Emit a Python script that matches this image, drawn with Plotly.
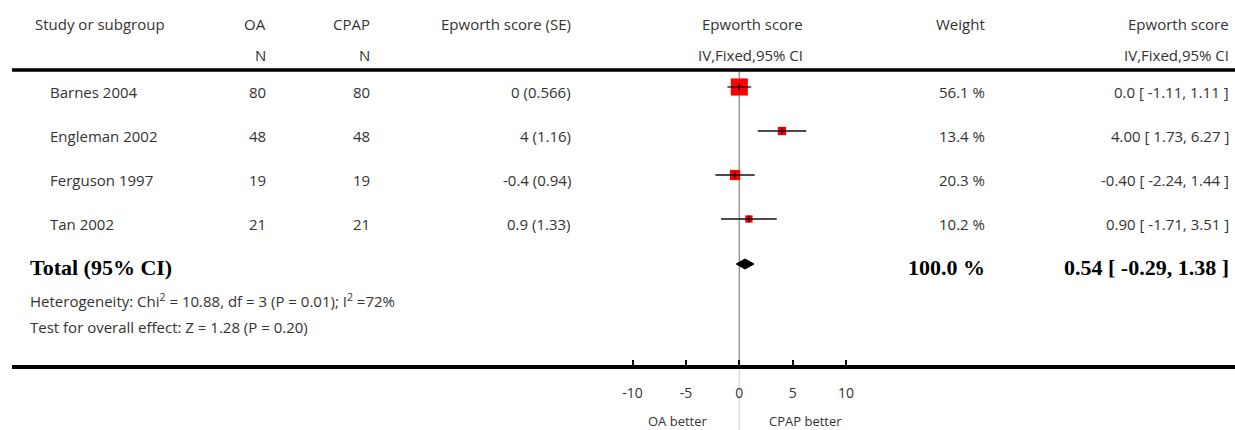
import plotly.graph_objects as go

# ---- study data ----
studies = ["Barnes 2004", "Engleman 2002", "Ferguson 1997", "Tan 2002"]
n_oa = [80, 48, 19, 21]
n_cpap = [80, 48, 19, 21]
md_text = ["0", "4", "-0.4", "0.9"]
se_text = ["0.566", "1.16", "0.94", "1.33"]
weights = [56.1, 13.4, 20.3, 10.2]
est_text = ["0.0", "4.00", "-0.40", "0.90"]
lo_text = ["-1.11", "1.73", "-2.24", "-1.71"]
hi_text = ["1.11", "6.27", "1.44", "3.51"]

# ---- pooled result ----
total_est_text = "0.54"
total_lo_text = "-0.29"
total_hi_text = "1.38"
total_weight_text = "100.0"
heterogeneity = "Heterogeneity: Chi<sup>2</sup> = 10.88, df = 3 (P = 0.01); I<sup>2</sup> =72%"
overall_test = "Test for overall effect: Z = 1.28 (P = 0.20)"

# ---- axis ----
tick_vals = [-10, -5, 0, 5, 10]
tick_text = ["-10", "-5", "0", "5", "10"]
left_label = "OA better"
right_label = "CPAP better"

est = [float(v) for v in est_text]
lo = [float(v) for v in lo_text]
hi = [float(v) for v in hi_text]
t_est, t_lo, t_hi = float(total_est_text), float(total_lo_text), float(total_hi_text)

W, H = 1235, 430
ZERO_PX, PX_PER_UNIT = 739.3, 10.67
LEFT_PX = 12
AXIS_Y = 366.5
HEADER_LINE_Y = 70

x_range = [(LEFT_PX - ZERO_PX) / PX_PER_UNIT, (W - ZERO_PX) / PX_PER_UNIT]

SANS = "Open Sans"
SERIF = "Liberation Serif"
TXT = "#333333"
BODY = 15

mark_y = [87 + 44 * i for i in range(len(studies))]
text_y = [y + 5 for y in mark_y]
total_y = 264

fig = go.Figure()

# study squares, sized by weight
fig.add_trace(go.Scatter(
    x=est, y=mark_y, mode="markers", opacity=1,
    marker=dict(symbol="square", color="#ff0000", opacity=1,
                size=[2.28 * w ** 0.5 for w in weights], line=dict(width=0)),
    hoverinfo="skip"))

# confidence intervals
ci_x, ci_y = [], []
for a, b, y in zip(lo, hi, mark_y):
    ci_x += [a, b, None]
    ci_y += [y, y, None]
fig.add_trace(go.Scatter(x=ci_x, y=ci_y, mode="lines",
                         line=dict(color="#111111", width=1.3), hoverinfo="skip"))

# point-estimate ticks
fig.add_trace(go.Scatter(
    x=est, y=mark_y, mode="markers",
    marker=dict(symbol="line-ns-open", size=5, color="#111111",
                line=dict(width=1.3, color="#111111")),
    hoverinfo="skip"))

# pooled diamond
fig.add_trace(go.Scatter(
    x=[t_lo, t_est, t_hi, t_est, t_lo],
    y=[total_y, total_y - 5, total_y, total_y + 5, total_y],
    mode="lines", fill="toself", fillcolor="#000000",
    line=dict(color="#000000", width=1), hoverinfo="skip"))

shapes = [
    dict(type="line", xref="paper", yref="y", x0=LEFT_PX / W, x1=1,
         y0=HEADER_LINE_Y, y1=HEADER_LINE_Y, line=dict(color="#000000", width=3.5)),
    dict(type="line", xref="x", yref="y", x0=0, x1=0, y0=HEADER_LINE_Y, y1=AXIS_Y,
         line=dict(color="#9a9a9a", width=1.5), layer="below"),
    dict(type="line", xref="x", yref="y", x0=0, x1=0, y0=AXIS_Y + 2, y1=H,
         line=dict(color="#dcdcdc", width=1.5), layer="below"),
]

ann = []


def txt(px, py, s, anchor="left", size=BODY, family=SANS, color=TXT):
    ann.append(dict(x=px / W, y=py, xref="paper", yref="y", text=s, showarrow=False,
                    xanchor=anchor, yanchor="middle",
                    font=dict(family=family, size=size, color=color)))


# header
txt(33, 24, "Study or subgroup")
txt(268, 24, "OA", "right")
txt(268, 55, "N", "right")
txt(372, 24, "CPAP", "right")
txt(372, 55, "N", "right")
txt(573, 24, "Epworth score (SE)", "right")
txt(805, 24, "Epworth score", "right")
txt(805, 55, "IV,Fixed,95% CI", "right")
txt(987, 24, "Weight", "right")
txt(1231, 24, "Epworth score", "right")
txt(1231, 55, "IV,Fixed,95% CI", "right")

# study rows
for i, y in enumerate(text_y):
    txt(48, y, studies[i])
    txt(268, y, str(n_oa[i]), "right")
    txt(372, y, str(n_cpap[i]), "right")
    txt(573, y, f"{md_text[i]} ({se_text[i]})", "right")
    txt(987, y, f"{weights[i]} %", "right")
    txt(1231, y, f"{est_text[i]} [ {lo_text[i]}, {hi_text[i]} ]", "right")

# pooled row
BIG = 22
txt(28, 267, "<b>Total (95% CI)</b>", size=BIG, family=SERIF, color="#000000")
txt(987, 267, f"<b>{total_weight_text} %</b>", "right", size=BIG, family=SERIF, color="#000000")
txt(1231, 267, f"<b>{total_est_text} [ {total_lo_text}, {total_hi_text} ]</b>", "right",
    size=BIG, family=SERIF, color="#000000")
txt(28, 300, heterogeneity)
txt(28, 327, overall_test)

# favours labels
txt(ZERO_PX - 29, 421, left_label, "right", size=13)
txt(ZERO_PX + 28, 421, right_label, "left", size=13)

fig.update_layout(
    width=W, height=H, margin=dict(l=0, r=0, t=0, b=0),
    paper_bgcolor="white", plot_bgcolor="white", showlegend=False,
    shapes=shapes, annotations=ann,
    xaxis=dict(domain=[LEFT_PX / W, 1], range=x_range, anchor="free",
               position=1 - AXIS_Y / H, showgrid=False, zeroline=False,
               showline=True, linecolor="#000000", linewidth=3.5,
               ticks="inside", ticklen=5, tickwidth=2, tickcolor="#000000",
               tickvals=tick_vals, ticktext=tick_text, ticklabelstandoff=13,
               tickfont=dict(family=SANS, size=14, color=TXT), fixedrange=True),
    yaxis=dict(domain=[0, 1], range=[H, 0], visible=False, fixedrange=True),
)

fig.write_html("out.html")
